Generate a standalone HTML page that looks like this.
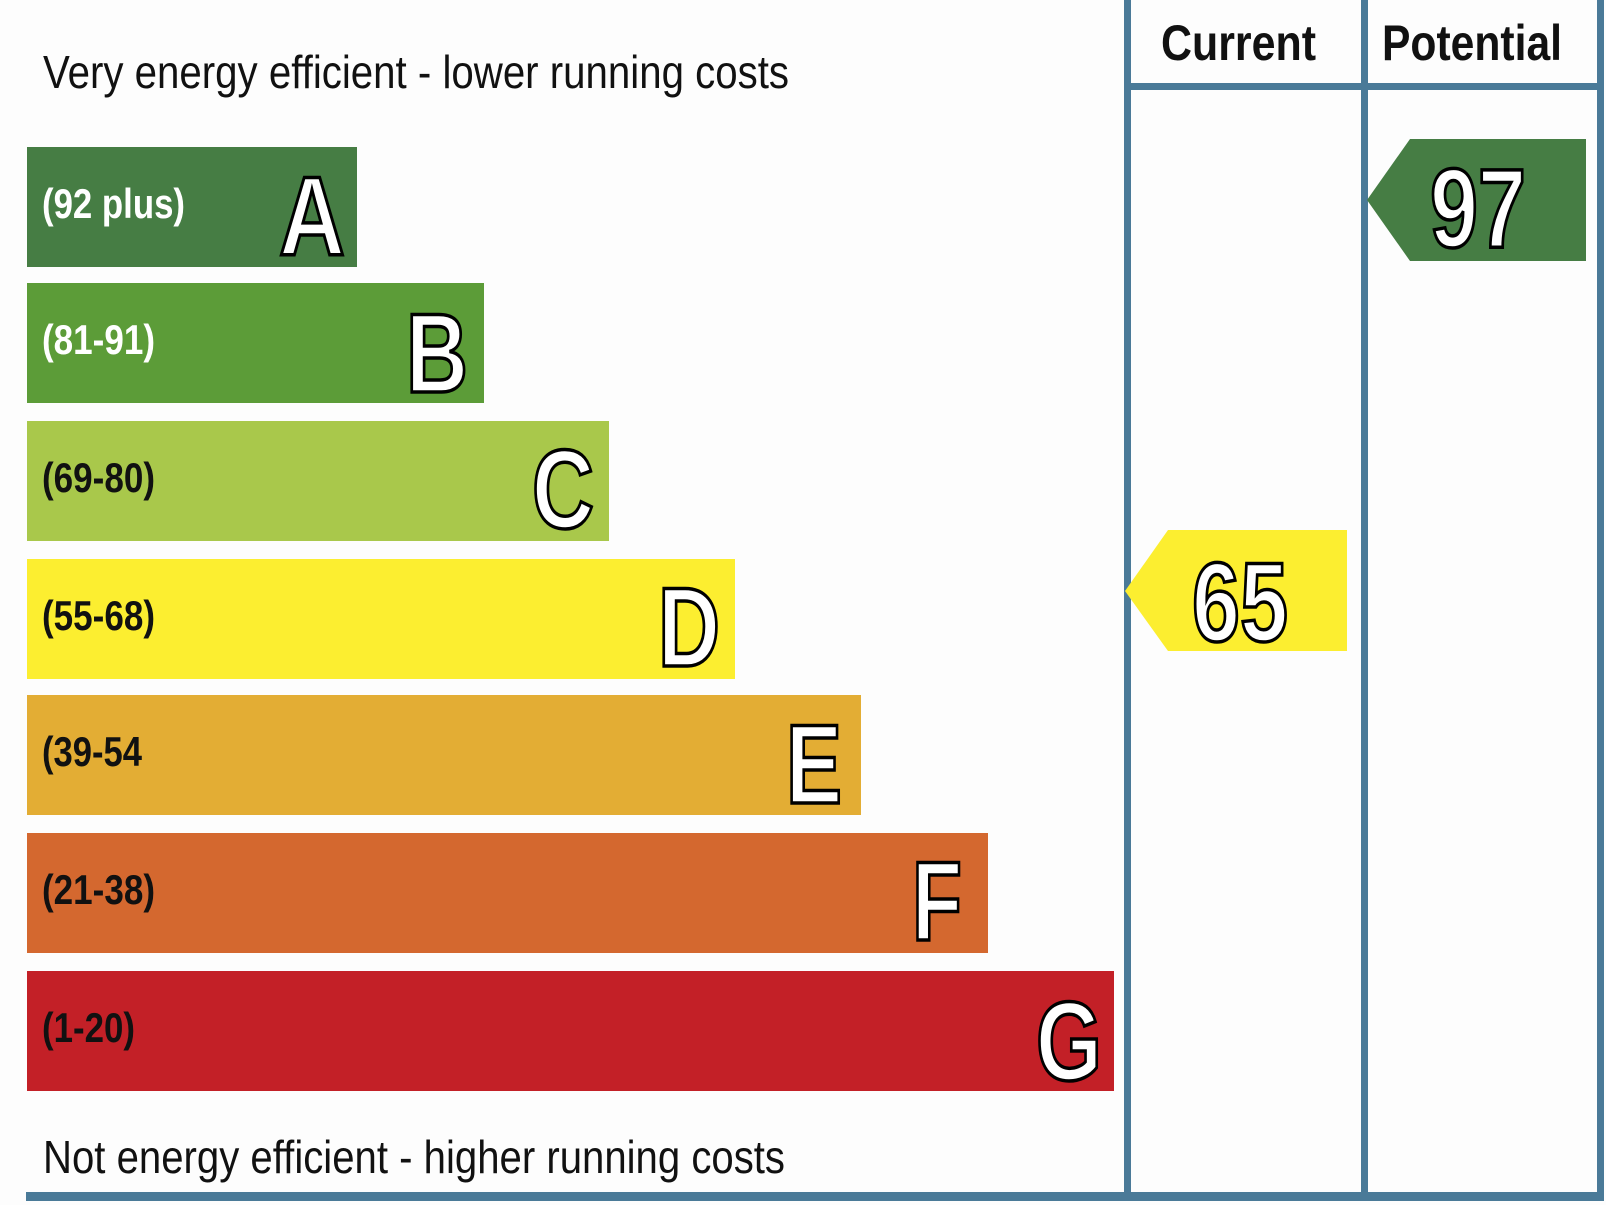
<!DOCTYPE html>
<html><head><meta charset="utf-8"><style>
html,body{margin:0;padding:0;background:#fdfdfd;}
svg{display:block;}
</style></head><body>
<svg width="1606" height="1205" viewBox="0 0 1606 1205" xmlns="http://www.w3.org/2000/svg" font-family="Liberation Sans, Arial, sans-serif">
<rect width="1606" height="1205" fill="#fdfdfd"/>
<g fill="#4a7a98">
<rect x="1124" y="0" width="7" height="1200"/>
<rect x="1361" y="0" width="7" height="1200"/>
<rect x="1597" y="0" width="7" height="1200"/>
<rect x="1124" y="83" width="480" height="7"/>
<rect x="26" y="1192" width="1578" height="9"/>
</g>
<text x="43" y="88" font-size="46" textLength="746" lengthAdjust="spacingAndGlyphs" fill="#111">Very energy efficient - lower running costs</text>
<text x="43" y="1173" font-size="46" textLength="742" lengthAdjust="spacingAndGlyphs" fill="#111">Not energy efficient - higher running costs</text>
<text x="1161" y="60" font-size="50" font-weight="bold" textLength="155" lengthAdjust="spacingAndGlyphs" fill="#111">Current</text>
<text x="1382" y="60" font-size="50" font-weight="bold" textLength="180" lengthAdjust="spacingAndGlyphs" fill="#111">Potential</text>
<g>
<rect x="27" y="147" width="330" height="120" fill="#467d44"/>
<rect x="27" y="283" width="457" height="120" fill="#5c9c38"/>
<rect x="27" y="421" width="582" height="120" fill="#a9c84b"/>
<rect x="27" y="559" width="708" height="120" fill="#fcee30"/>
<rect x="27" y="695" width="834" height="120" fill="#e3ad34"/>
<rect x="27" y="833" width="961" height="120" fill="#d4682f"/>
<rect x="27" y="971" width="1087" height="120" fill="#c32027"/>
</g>
<g font-size="42" font-weight="bold">
<text x="42" y="218" fill="#fff" textLength="143" lengthAdjust="spacingAndGlyphs">(92 plus)</text>
<text x="42" y="354" fill="#fff" textLength="113" lengthAdjust="spacingAndGlyphs">(81-91)</text>
<text x="42" y="492" fill="#111" textLength="113" lengthAdjust="spacingAndGlyphs">(69-80)</text>
<text x="42" y="630" fill="#111" textLength="113" lengthAdjust="spacingAndGlyphs">(55-68)</text>
<text x="42" y="766" fill="#111" textLength="100" lengthAdjust="spacingAndGlyphs">(39-54</text>
<text x="42" y="904" fill="#111" textLength="113" lengthAdjust="spacingAndGlyphs">(21-38)</text>
<text x="42" y="1042" fill="#111" textLength="93" lengthAdjust="spacingAndGlyphs">(1-20)</text>
</g>
<g font-size="112" font-weight="bold" fill="#fff" stroke="#000" stroke-width="3.5" text-anchor="end">
<text x="345" y="255" textLength="66" lengthAdjust="spacingAndGlyphs">A</text>
<text x="468" y="392" textLength="62" lengthAdjust="spacingAndGlyphs">B</text>
<text x="594" y="528" textLength="62" lengthAdjust="spacingAndGlyphs">C</text>
<text x="720" y="666" textLength="62" lengthAdjust="spacingAndGlyphs">D</text>
<text x="842" y="803" textLength="56" lengthAdjust="spacingAndGlyphs">E</text>
<text x="962" y="940" textLength="50" lengthAdjust="spacingAndGlyphs">F</text>
<text x="1102" y="1080" textLength="66" lengthAdjust="spacingAndGlyphs">G</text>
</g>
<polygon points="1125,591 1168,530 1347,530 1347,651 1168,651" fill="#fcee30"/>
<polygon points="1367,200 1410,139 1586,139 1586,261 1410,261" fill="#467d44"/>
<g font-size="112" font-weight="bold" fill="#fff" stroke="#000" stroke-width="3.5" text-anchor="middle">
<text x="1240" y="641" textLength="96" lengthAdjust="spacingAndGlyphs">65</text>
<text x="1478" y="247" textLength="96" lengthAdjust="spacingAndGlyphs">97</text>
</g>
</svg>
</body></html>
